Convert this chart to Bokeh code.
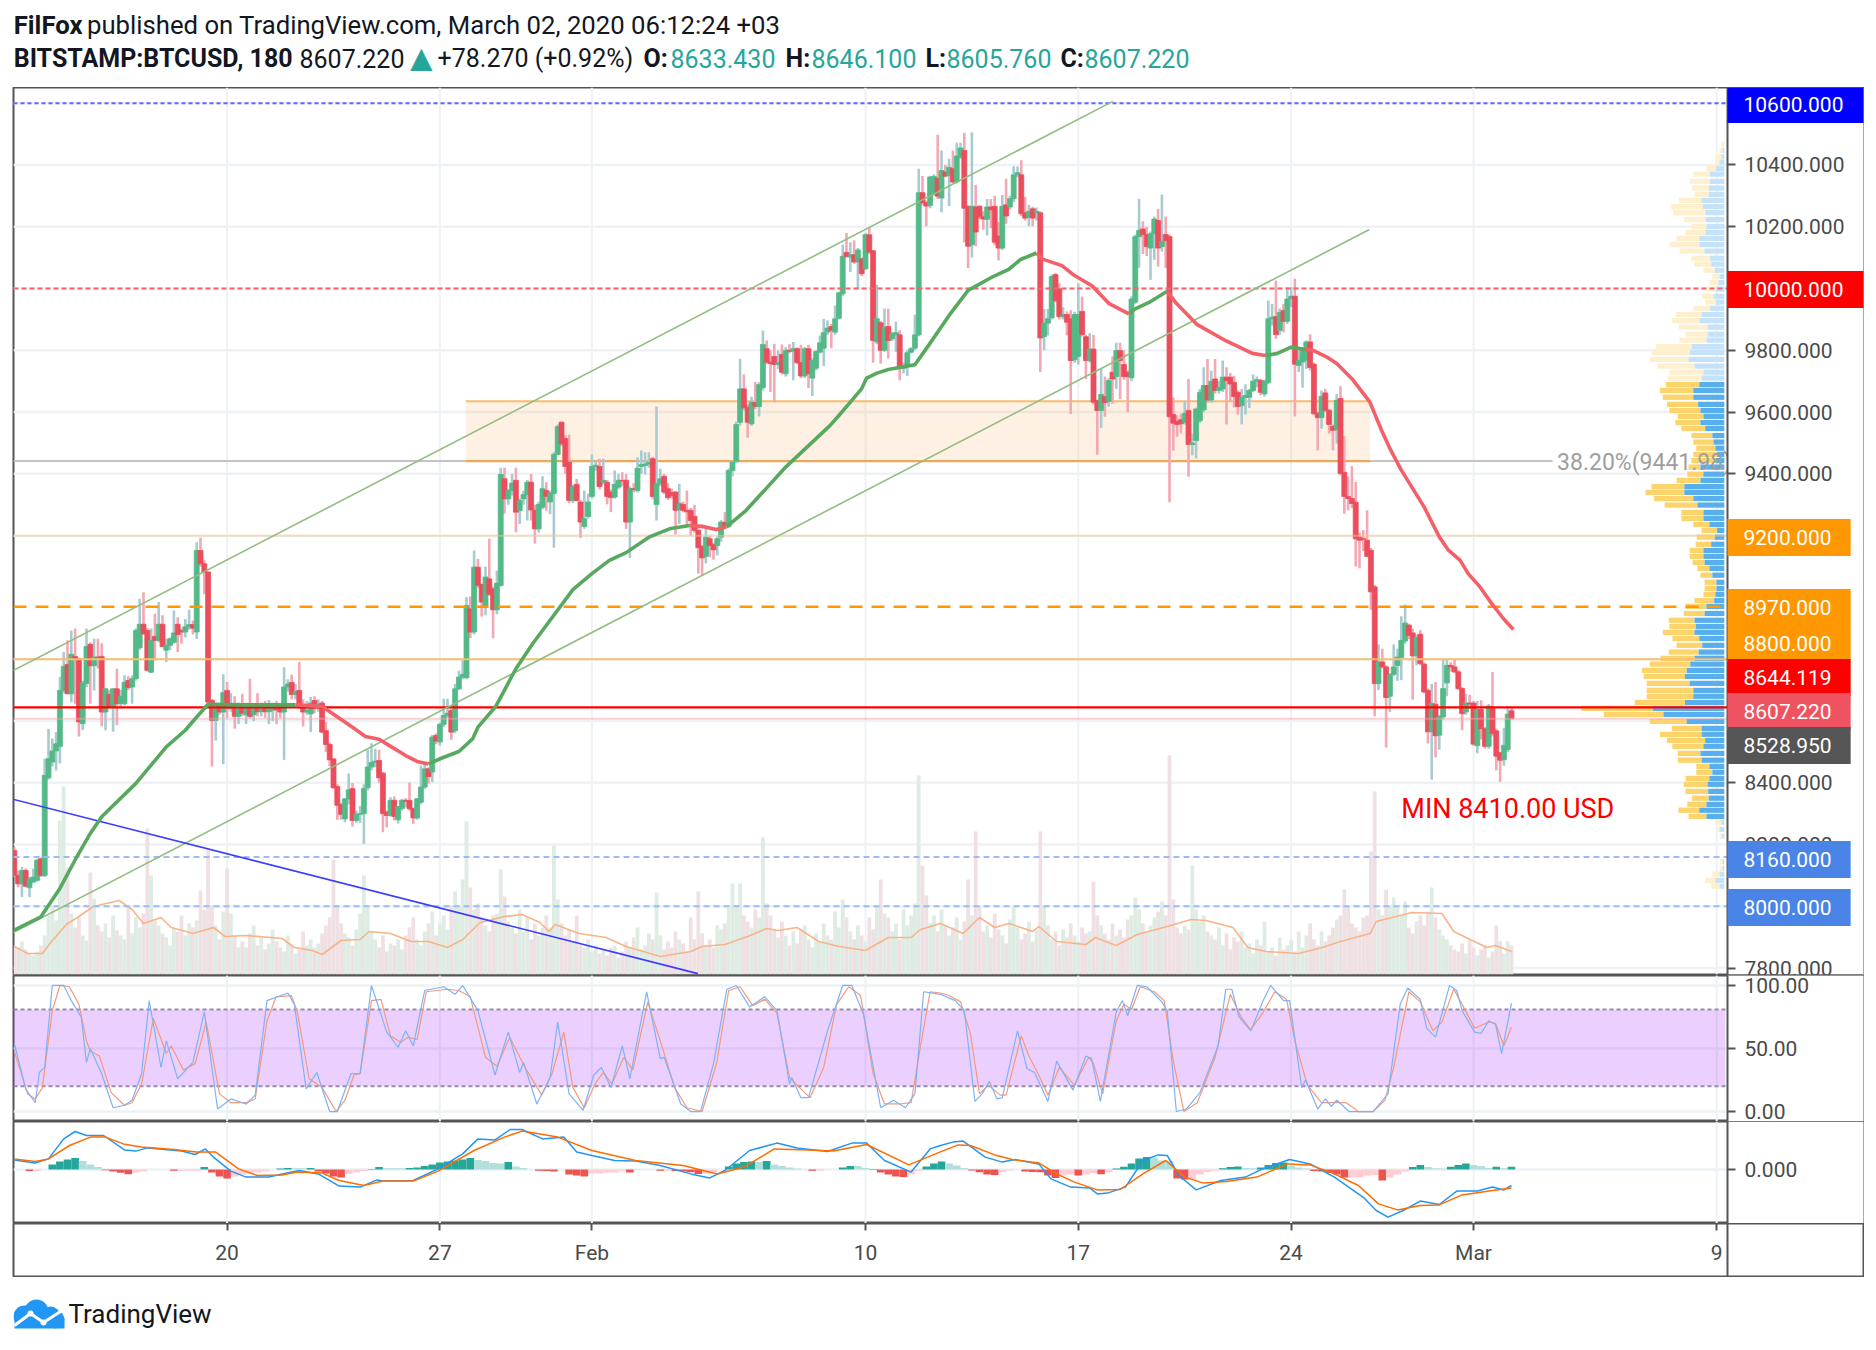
from bokeh.core.properties import value
from bokeh.embed import file_html
from bokeh.resources import INLINE
from bokeh.layouts import column
from bokeh.models import (FixedTicker, Label, LinearAxis, LinearScale,
                          NumeralTickFormatter, Range1d, Span)
from bokeh.plotting import figure

# ---- candles (3h bars, bar 0 = 13 Jan 00:00) ----
opens = [
 8181,8100,8073,8116,8060,8079,8084,8154,8100,8416,8467,8503,8518,8699,8783,8688,8809,8802,8591,8721,
 8848,8779,8807,8809,8629,8686,8647,8704,8656,8656,8731,8710,8737,8837,8913,8893,8758,8874,8861,8913,
 8829,8845,8855,8913,8893,8888,8905,8912,8888,9152,9109,9082,8667,8602,8649,8629,8699,8640,8651,8615,
 8650,8620,8650,8620,8650,8630,8648,8630,
 8635,8640,8643,8629,8710,8725,8686,8699,8653,8629,8623,8666,8643,8658,8569,8524,8477,8388,8329,8283,
 8348,8381,8278,8298,8300,8384,8451,8466,8472,8431,8305,8294,8343,8280,8316,8343,8343,8316,8286,8337,
 8386,8445,8435,8553,8532,8589,8618,8634,8569,8704,8742,8740,8963,8888,9098,9042,8971,9060,9028,8960,
 9039,9384,9319,9346,9379,9281,9319,9333,9373,
 9282,9222,9292,9346,9309,9336,9463,9567,9514,9438,9314,9366,9309,9230,9262,9327,9424,9424,9373,9373,
 9341,9325,9357,9379,9379,9244,9352,9346,9424,9427,9432,9449,9301,9368,9392,9352,9340,9341,9284,9301,
 9282,9282,9262,9217,9165,9133,9190,9171,9168,9195,9243,9230,9411,9441,9567,9675,9616,9562,9631,9618,
 9679,9805,9762,9780,9754,9787,9724,9800,
 9797,9805,9760,9717,9805,9710,9742,9794,9807,9859,9877,9859,9904,9983,10117,10102,10109,10086,10096,10064,
 10174,10122,9827,9889,9800,9877,9837,9850,9850,9742,9749,9794,9807,9850,10310,10278,10269,10307,10357,10293,
 10377,10366,10388,10345,10425,10447,10266,10142,10264,10266,10232,10224,10264,10266,10170,10131,10271,10264,10291,10368,
 10368,10245,10231,10258,10245,10245,
 9844,9888,9905,10045,9999,9909,9916,9902,9769,9780,9926,9844,9767,9804,9637,9605,9650,9635,9729,9715,
 9799,9754,9729,9711,9956,10168,10193,10175,10131,10177,10220,10136,10175,10168,9592,9570,9575,9567,9605,9495,
 9508,9572,9607,9686,9639,9707,9670,9675,9713,9713,9696,9664,9621,9647,9648,9670,9700,9702,9659,9696,
 9902,9909,9864,9929,9894,
 9967,9975,9751,9762,9768,9827,9755,9597,9582,9662,9606,9554,9543,9644,9405,9327,9320,9308,9195,9190,
 9185,9153,9034,8721,8791,8775,8680,8751,8780,8805,8859,8910,8885,8811,8881,8784,8699,8565,8654,8554,
 8613,8723,8780,8775,8759,8705,8629,8658,8658,8520,8637,8575,8518,8640,8568,8497,8475,8507,8633]
closes = [
 8100,8073,8116,8065,8089,8095,8149,8100,8424,8478,8503,8526,8699,8777,8688,8816,8802,8597,8723,8841,
 8779,8807,8805,8629,8704,8647,8704,8656,8680,8725,8708,8737,8893,8913,8882,8764,8861,8861,8913,8841,
 8845,8866,8885,8880,8888,8905,8912,8900,9152,9109,9082,8661,8602,8656,8629,8692,8642,8651,8615,8650,
 8625,8650,8615,8648,8630,8650,8630,8645,
 8643,8636,8629,8710,8720,8686,8695,8650,8629,8635,8658,8643,8655,8564,8524,8474,8384,8327,8298,8348,
 8377,8278,8298,8300,8381,8451,8466,8470,8416,8300,8294,8343,8291,8323,8343,8340,8316,8286,8348,8386,
 8445,8420,8548,8535,8589,8618,8625,8564,8704,8742,8751,8974,8888,9098,9039,8985,9066,9010,8960,9046,
 9398,9319,9346,9370,9276,9314,9333,9373,9283,
 9222,9301,9352,9327,9338,9463,9553,9497,9424,9314,9359,9314,9244,9255,9309,9424,9428,9359,9379,9327,
 9323,9366,9379,9377,9244,9352,9350,9418,9430,9432,9437,9327,9368,9384,9341,9323,9330,9282,9305,9282,
 9277,9249,9217,9161,9128,9195,9168,9154,9190,9244,9230,9411,9438,9560,9675,9614,9567,9632,9618,9689,
 9819,9762,9757,9754,9760,9729,9800,9797,
 9805,9760,9717,9805,9724,9767,9796,9824,9857,9872,9865,9902,9986,10104,10104,10109,10086,10125,10048,10174,
 10118,9832,9902,9800,9875,9832,9854,9857,9742,9745,9792,9805,9850,10310,10278,10267,10361,10363,10299,10382,
 10364,10393,10345,10429,10455,10260,10137,10266,10183,10232,10225,10264,10255,10150,10131,10266,10235,10291,10368,10375,
 10242,10228,10250,10228,10250,9840,
 9888,9902,10039,9961,9909,9915,9891,9767,9916,9916,9851,9767,9804,9632,9605,9657,9631,9702,9707,9799,
 9767,9715,9715,9966,10168,10188,10175,10136,10177,10225,10131,10153,10155,9585,9564,9560,9562,9596,9495,9500,
 9610,9664,9686,9639,9700,9670,9680,9713,9702,9691,9650,9618,9648,9654,9670,9700,9705,9664,9700,9902,
 9907,9851,9923,9894,9966,
 9975,9755,9768,9800,9827,9744,9595,9582,9651,9606,9560,9541,9638,9401,9327,9320,9304,9190,9185,9188,
 9133,9018,8721,8791,8775,8676,8751,8775,8807,8861,8917,8877,8811,8870,8786,8694,8565,8657,8552,8615,
 8705,8780,8775,8759,8705,8624,8658,8655,8525,8637,8575,8518,8648,8559,8486,8473,8521,8622,8607]
highs = [
 8192,8115,8127,8122,8095,8122,8154,8158,8478,8575,8543,8564,8742,8823,8861,8893,8899,8805,8730,8899,
 8855,8866,8866,8852,8706,8700,8706,8769,8700,8748,8745,8748,8900,8996,9017,8900,8899,8947,8985,8942,
 8866,8870,8958,8936,8900,8930,8960,8925,9179,9193,9120,9085,8670,8660,8655,8751,8726,8690,8680,8660,
 8688,8660,8737,8655,8690,8660,8665,8668,
 8660,8665,8650,8774,8735,8750,8720,8791,8670,8665,8678,8680,8670,8665,8596,8530,8480,8395,8335,8350,
 8430,8399,8310,8325,8395,8507,8528,8510,8507,8435,8310,8353,8356,8325,8348,8350,8401,8320,8350,8456,
 8461,8450,8555,8560,8595,8672,8672,8640,8720,8763,8796,9001,9003,9152,9125,9045,9100,9190,9035,9087,
 9420,9420,9352,9400,9420,9320,9345,9380,9400,
 9300,9310,9392,9373,9345,9470,9560,9570,9525,9527,9365,9384,9315,9346,9336,9463,9440,9449,9449,9380,
 9350,9411,9400,9405,9400,9360,9370,9454,9476,9470,9470,9455,9618,9417,9400,9370,9352,9345,9368,9310,
 9346,9290,9300,9225,9170,9228,9200,9178,9198,9250,9276,9418,9445,9570,9773,9722,9625,9650,9697,9697,
 9864,9832,9800,9821,9800,9819,9810,9820,
 9827,9810,9818,9810,9818,9775,9800,9848,9902,9897,9885,9945,9990,10142,10180,10150,10156,10131,10100,10180,
 10199,10125,10012,9895,9935,9935,9860,9893,9865,9760,9800,9810,9915,10388,10364,10285,10365,10370,10498,10447,
 10400,10420,10447,10472,10472,10504,10270,10506,10336,10270,10250,10290,10290,10300,10215,10303,10355,10300,10396,10395,
 10415,10296,10271,10265,10262,10250,
 9934,9934,10045,10050,10017,9940,9926,9930,9925,10017,9974,9850,9855,9850,9640,9740,9715,9710,9780,9825,
 9825,9800,9735,9975,10175,10290,10218,10200,10185,10233,10258,10304,10233,10175,9648,9590,9595,9637,9707,9530,
 9615,9675,9745,9772,9734,9772,9700,9767,9745,9726,9718,9670,9675,9690,9675,9722,9715,9708,9705,9961,
 9950,10026,9935,9950,10004,
 10005,10032,9800,9805,9832,9852,9760,9600,9670,9675,9610,9560,9658,9684,9522,9392,9425,9374,9210,9218,
 9282,9160,9040,8848,8834,8780,8755,8848,8834,8939,8977,8915,8899,8880,8894,8790,8705,8720,8726,8620,
 8802,8802,8790,8802,8765,8710,8688,8685,8665,8665,8667,8580,8655,8759,8575,8500,8577,8648,8646]
lows = [
 8095,8062,8030,8062,8030,8075,8080,8095,8095,8410,8453,8440,8462,8690,8688,8661,8656,8550,8570,8710,
 8656,8699,8770,8583,8570,8640,8565,8586,8640,8650,8700,8656,8730,8830,8880,8760,8755,8796,8855,8839,
 8791,8830,8850,8823,8850,8870,8895,8880,8865,9100,9010,8661,8453,8537,8620,8460,8610,8630,8575,8590,
 8615,8590,8610,8600,8615,8615,8610,8590,
 8600,8590,8610,8474,8695,8670,8670,8640,8582,8620,8564,8625,8630,8560,8500,8453,8380,8280,8280,8272,
 8330,8258,8270,8270,8202,8375,8440,8450,8400,8240,8256,8290,8278,8268,8310,8320,8310,8267,8280,8330,
 8380,8397,8402,8525,8520,8580,8610,8539,8560,8700,8735,8735,8868,8880,9030,8938,8942,9005,8868,8945,
 9035,9271,9300,9330,9211,9238,9300,9249,9249,
 9174,9210,9285,9281,9270,9161,9460,9490,9400,9305,9305,9310,9193,9222,9255,9320,9410,9350,9365,9301,
 9276,9320,9350,9360,9222,9128,9340,9340,9400,9398,9420,9320,9249,9360,9335,9315,9320,9204,9238,9275,
 9228,9200,9210,9077,9071,9110,9130,9122,9136,9180,9225,9225,9392,9435,9556,9605,9517,9555,9610,9586,
 9670,9755,9665,9632,9740,9722,9715,9790,
 9703,9755,9710,9710,9678,9652,9735,9790,9749,9850,9807,9850,9900,9975,10100,10053,10080,9997,10040,10060,
 10112,9760,9820,9757,9795,9773,9830,9795,9703,9725,9717,9790,9800,9845,10270,10202,10260,10300,10290,10247,
 10360,10267,10340,10340,10420,10150,10066,10100,10137,10225,10190,10172,10195,10140,10091,10125,10210,10255,10280,10360,
 10235,10220,10202,10202,10220,9730,
 9800,9848,9900,9955,9900,9900,9848,9594,9760,9754,9845,9707,9760,9625,9462,9549,9585,9617,9627,9675,
 9642,9705,9600,9700,9950,10067,10112,10105,10028,10093,10071,10120,10067,9308,9475,9520,9531,9560,9391,9460,
 9450,9565,9600,9630,9630,9660,9660,9665,9560,9632,9615,9592,9560,9592,9613,9665,9680,9655,9650,9690,
 9880,9837,9850,9858,9885,
 9940,9586,9730,9679,9740,9735,9590,9476,9546,9600,9530,9476,9498,9395,9271,9282,9290,9100,9094,9150,
 9130,8960,8615,8700,8770,8514,8629,8745,8730,8732,8850,8865,8669,8780,8780,8690,8527,8410,8482,8507,
 8605,8680,8760,8755,8700,8570,8620,8640,8520,8495,8540,8510,8510,8550,8440,8403,8455,8500,8606]
volumes = [
 30,28,34,26,22,20,24,30,40,60,70,55,155,189,108,62,48,58,40,35,
 103,77,50,44,52,38,60,45,40,36,70,42,58,48,62,147,100,55,50,42,
 38,30,48,44,60,40,52,48,55,85,66,125,70,50,36,64,107,62,40,28,
 34,28,42,50,30,38,26,32,46,34,28,24,40,30,22,26,44,30,36,28,
 32,42,50,58,116,70,52,42,38,30,46,62,100,68,44,36,28,40,24,32,
 30,36,26,40,48,58,36,30,44,52,64,40,52,60,46,70,84,70,96,154,
 88,66,72,58,50,44,60,62,106,79,54,48,42,66,44,58,36,52,40,48,
 60,48,130,76,52,40,46,34,60,30,28,36,24,30,22,26,20,28,30,18,
 24,34,28,38,48,26,30,42,36,83,40,26,34,28,44,36,32,24,58,36,
 84,42,30,36,28,50,46,52,68,92,70,92,60,54,48,66,58,138,72,60,
 46,38,54,40,30,44,32,46,50,36,28,42,34,52,40,36,64,48,76,58,
 44,36,50,40,34,58,46,70,96,62,58,44,52,36,66,50,60,72,200,110,
 80,52,60,44,66,50,40,48,58,36,54,96,60,144,70,44,50,38,62,46,
 40,32,56,68,48,36,42,54,34,46,144,70,50,36,44,30,46,38,52,40,
 34,48,42,44,94,60,50,42,36,52,40,46,38,56,60,78,66,52,44,50,
 58,64,74,60,220,76,48,42,50,46,110,66,54,60,44,40,36,48,30,42,
 26,38,34,44,28,32,22,36,30,54,24,28,20,38,26,30,36,24,44,28,
 40,52,36,30,44,34,40,48,56,60,86,70,52,48,44,58,60,124,184,66,
 60,86,70,78,68,60,74,48,42,54,60,50,64,88,58,46,40,36,30,26,
 24,32,22,36,28,20,26,30,18,24,50,34,22,34,30]
vma_bar = [0,3.5,7.4,9.8,13.7,17,20.8,27.6,31,34,38.6,41.3,47,52.4,55.5,61,70.5,73.7,78.4,81,86,91,93.4,99,104.4,109,114,118,122.6,129,133.6,138.3,140.7,142.3,148.6,155.7,161,170,178,181,187,193,198,201,206,211.7,217,224,230,236,238.5,243.7,249.7,254,258,261.8,268,269.6,274.3,282,284.5,290,295.5,303.4,309.7,313.6,320.7,324.6,329.3,338,344.2,349,356.8,358.4,367.8,375.7,378.8,387.5,389.8,394]
vma_val = [29,22,22,34,51,59,69,75,66,52,58,48,42,48,39,40,37,28,25,21,35,36,44,42,34,34,28,36,53,59,61,53,44,51,42,38,29,19,24,29,31,39,47,45,48,34,29,25,38,38,46,52,42,58,48,52,44,49,34,31,38,30,41,49,56,55,48,28,24,22,28,34,42,54,63,62,44,28,30,24]

# ---- two-colour moving average ----
ma_bar = [0,7,12,16,20,23,32,36,40,45,48,51,60,74,81,84.5,89,92.4,96,98.6,
 103,106,109,112.7,117,120.6,122,126.7,132,136.4,147,152,156.6,161,167,172.4,177.7,181,184.7,187.4,
 192.6,197,203,214.7,217,220.4,223,224.3,227,230,237,240.6,246,251,257,261.7,264.8,269,270.4,275.7,
 279,283.6,288,293.3,295,298.6,303.4,305.6,311.3,318.8,325.8,329.2,332.4,336,339.6,341.8,345.7,348,352,356.7,
 359.8,362,365,371,375,377.4,380.5,382.6,385.7,388.8,391.9,394.5]
ma_val = [7923,7966,8058,8150,8236,8290,8398,8457,8516,8570,8613,8654,8652,8652,8647,8618,8580,8550,8541,8521,
 8488,8469,8461,8481,8501,8542,8580,8647,8769,8850,9025,9077,9120,9145,9195,9222,9233,9230,9220,9228,
 9282,9341,9422,9557,9589,9638,9676,9710,9726,9738,9753,9816,9913,9994,10035,10062,10094,10115,10096,10074,
 10042,10009,9952,9918,9934,9955,9991,9955,9883,9831,9790,9783,9790,9810,9803,9800,9776,9757,9708,9633,
 9541,9482,9412,9293,9196,9153,9120,9077,9034,8980,8931,8896]
ma_green_spans = [(0,74),(109,177.7),(187.4,269),(293.3,303.4),(329.2,339.6)]
ma_red_spans = [(74,109),(177.7,187.4),(269,293.3),(303.4,329.2),(339.6,394.5)]

# ---- volume profile ----
vp_price = [10468,10447,10427,10409,10389,10370,10347,10325,10305,10285,10265,10246,10223,10201,10182,10162,10142,10121,10098,10079,10059,10039,10019,9998,9975,9956,9936,9916,9896,9875,9852,9833,9812,9793,9771,9749,9729,9710,
 9689,9670,9648,9625,9605,9586,9566,9547,9524,9503,9483,9463,9443,9422,9399,9379,9359,9340,9320,
 9299,9275,9256,9236,9217,9195,9172,9152,9133,9113,9094,9072,9049,9029,9010,8990,8971,8948,8926,8906,8887,8867,8845,8823,8803,8784,8764,8744,8722,8699,8680,8660,8641,8621,8599,8576,8557,8537,8518,8495,8473,8453,8434,8414,8395,8372,8350,8330,8311,8291,
 8272,8249,8227,8144,8123,8104,8084,8065]
vp_up = [0,3,5,8,14,24,24,26,26,38,36,32,31,30,32,42,42,33,24,22,16,8,10,14,17,14,24,38,42,28,28,30,55,58,60,50,35,38,
 42,52,52,44,40,35,40,32,20,18,15,12,15,40,35,40,67,67,52,
 45,35,35,25,12,16,22,35,35,33,25,20,13,13,15,17,30,33,50,48,50,42,37,43,50,57,63,66,58,52,52,66,120,102,63,38,38,32,35,40,38,25,20,25,28,27,26,30,42,30,
 5,8,4,3,3,8,15,8]
vp_total = [5,8,15,15,30,52,58,54,50,76,90,86,68,55,65,80,92,75,55,50,35,20,25,32,37,32,52,82,88,76,65,75,115,122,124,112,92,95,
 98,108,103,96,92,78,82,72,55,52,47,52,55,60,62,80,122,132,118,
 100,72,72,52,38,46,48,58,58,53,45,40,33,33,35,50,65,68,93,92,103,87,80,93,107,125,138,135,130,130,130,150,240,202,125,88,108,96,87,78,78,47,47,65,68,65,54,62,77,60,
 15,12,8,8,7,20,32,22]

# ---- stochastic ----
k_bar = [0,3,5.5,6.6,8,10,13,15,17.6,19,20,23,26,29,31,33.5,35.5,38.6,40,43,47,50,53.5,57,61,63.4,66.5,72,73.7,76.8,79.6,83,85,88.6,91,94,98,101,103,105,108,113,116,118,122,126.5,130,133,134,137.5,141,143,146,149.7,152.5,154.5,157,160,162,166.4,170,171,175.4,178,180.6,184,187.5,190,193.5,197.5,200.7,204,204.6,207,209,214,218,220.4,223.5,228,231.4,234.5,237,239.3,243.7,
 247.6,250,252.8,254.7,256.6,258.6,260,264,266.5,268.5,272,274.3,278.6,282,283.5,285.8,290,291.6,293,295.5,298,302,303.4,305.8,308.4,312,316.8,318.8,320.4,322.3,325.4,328.5,330.6,334,335.6,338.8,339.8,343,345,346.6,348,351.3,357.6,361.5,364.7,366.7,370,371.7,374,377.7,379.6,381,384.3,386,388,389.8,391.4,394]
k_val = [54,18,7,31,35,100,100,88,75,39,50,30,3,5,9,30,88,35,56,26,39,79,2,10,6,13,88,94,85,18,31,0,0,30,30,100,63,51,64,52,96,99,93,100,80,29,63,31,39,6,27,71,14,1,29,35,19,52,26,95,42,43,6,0,0,38,97,100,83,91,80,22,27,11,11,64,100,100,77,3,9,3,14,95,93,
 88,80,8,14,24,10,11,64,34,31,8,40,17,44,42,8,79,88,76,100,99,87,80,0,2,15,52,97,97,75,64,87,100,88,88,19,25,2,10,4,9,0,0,14,85,98,89,66,59,100,96,80,63,62,72,69,46,86]
d_bar = [0,3.5,5.5,7.4,10,12,14.5,17,19,20,22.4,25.5,29,31,33.5,36.6,40,41.3,44.5,47.6,50.5,54,57,61,63.4,66.5,68.9,72.9,74.4,77.6,81,84.7,87,89.4,91,94,96.5,99,101.7,103.6,106,108.4,113.9,117,120,124,127,130.4,134.4,138.8,141.5,144.6,147,150,153,155,157.3,160.4,162.8,166.7,170,173.8,177,181,184.8,188,191,194.3,197.5,200.7,204,207,209.4,213,216.4,219.6,222.7,226,229,233,236,238.6,241,243.7,
 246,249,251.6,254,256.3,259.4,261,265,267,269.6,272,275,279,282.7,284,286.4,290,292,294,296.3,300,302.6,305,307.8,311.3,316,320,323,325.4,328.5,331.7,334.8,337,340.3,344,350.5,353.7,357.6,360.7,363,367,370,373.3,375.7,378.8,381,384.3,388,389.8,392,394]
d_val = [48,14,10,19,80,100,99,85,56,48,44,15,5,7,22,74,46,52,33,38,71,14,7,7,10,72,91,92,80,26,19,0,9,29,30,88,89,60,55,59,57,95,97,96,91,43,36,59,35,13,30,63,19,3,23,31,22,43,33,87,56,19,3,0,38,96,99,84,89,78,27,18,11,35,85,99,92,30,6,6,7,54,95,94,
 92,87,62,14,21,13,13,60,44,29,13,35,21,43,38,14,72,85,81,99,95,88,40,0,7,43,93,74,65,78,95,89,56,21,7,7,0,0,9,35,95,87,64,71,97,85,66,71,70,52,67]

# ---- MACD ----
macd_bar = [0,5.5,9,13,16,19,23.5,29,32,35,44,47.6,50.3,52.4,57,61,67,70.5,75,80,85.5,91,95.4,97,105,111.5,118,122,126.5,130.5,133.6,139,144.6,148,152,158,163.5,170,178,183,187,193.5,200.7,206,214,220.4,224.3,229,236,241,243.7,
 247,249.7,255.5,260,263.3,269.6,272.8,278,283,285,287.7,292.4,297,301,303.4,306.5,311,317.5,324,328.5,335.6,341,347.4,355.2,358.4,361.5,365.5,370,375,379.6,385,389,392,394]
macd_val = [48,32,53,153,190,170,170,98,92,108,92,75,103,62,-8,-38,-38,-22,-5,-22,-83,-88,-52,-58,-55,3,78,153,148,200,200,153,162,87,70,45,42,20,-22,-42,-5,95,132,108,90,132,132,45,-13,103,120,
 137,142,62,37,50,28,-47,-88,-92,-122,-118,-88,45,73,70,-30,-102,-55,-38,3,50,28,-38,-142,-205,-238,-205,-158,-175,-108,-108,-88,-102,-80]
signal_bar = [0,5.5,9,14.5,20,24,28.7,33.4,42,48,53,59,64,70.5,74.5,81,85.5,92,97,105,111.5,121,129,133.6,143,152,163.5,176,185,192,200,209,215.6,224.3,235.4,243.7,
 248.4,251.6,258,262.6,269.6,274.3,279,285,291,297,303,308,313,319,327,335,341,347.4,353.7,359,364,370,375,381,389,394]
signal_val = [53,40,53,120,162,162,128,112,100,87,87,3,-30,-27,-13,-18,-55,-80,-58,-58,-8,95,162,192,162,95,45,20,-22,12,103,98,92,125,23,88,
 123,120,73,50,33,-22,-63,-102,-100,-22,45,-38,-68,-60,-38,28,23,-22,-80,-172,-202,-180,-177,-127,-105,-92]
hist_vals = [0,0,-8,-8,0,25,40,50,58,42,25,12,-4,-10,-16,-24,-15,-10,0,0,0,-6,-6,-6,-6,12,-15,-35,-45,-35,-25,-20,-15,-10,0,5,7,6,6,8,
 -10,-20,-35,-40,-22,-15,-8,2,12,6,6,6,8,10,18,25,35,40,45,50,58,48,42,32,30,38,15,8,0,-6,-8,-10,0,-25,-30,-35,-20,-20,-15,-15,-8,-15,-3,0,0,-6,-6,-8,-10,-14,-22,-20,-12,0,15,30,38,40,38,42,25,18,10,5,0,-6,-6,0,0,10,18,18,8,-2,-15,-25,-35,-38,-25,-8,15,30,40,30,20,8,-5,-14,-25,-28,-14,-5,0,-10,-12,-14,-30,-42,-30,-25,-30,-25,-18,-24,-12,5,14,30,55,62,60,45,42,-45,-50,-50,-25,-12,-6,6,12,15,8,6,10,22,32,35,18,10,5,-8,-10,-18,-25,-40,-40,-40,-30,-28,-55,-40,-25,-10,12,22,12,6,5,14,22,30,22,18,8,14,6,14]

# ---- axes and annotations ----
price_ticks = [7800,8000,8200,8400,8600,8800,9200,9400,9600,9800,10000,10200,10400,10600]
date_ticks = [56,112,152,224,280,336,384,448]
date_labels = ["20","27","Feb","10","17","24","Mar","9"]
level_prices = [10600,10000,9200,8970,8800,8644.119,8607.22,8160,8000]
box_text = ["10600.000","10000.000","9200.000","8970.000","8800.000","8644.119","8607.220","8528.950","8160.000","8000.000"]
box_color = ["#0000ff","#ff0000","#ff9800","#ff9800","#ff9800","#ff0000","#ef5361","#555555","#4a84e6","#4a84e6"]
box_center = [104,289,537,607,643,677,711,745,859,907]
box_wide = [True,True,False,False,False,False,False,False,False,False]
fib_level = 9441.98
zone_low, zone_high = 9441, 9635

X0, X1 = -0.21, 486.63
AX = 450.84
GREEN, RED = "#53b987", "#eb4d5c"
TXT = "#4a4a4a"
FONT = "Roboto"
N = len(closes)

x_range = Range1d(X0, X1)


def pane(height, y0, y1, top=0):
    f = figure(width=1864, height=height, x_range=x_range, y_range=Range1d(y0, y1),
               output_backend="svg", toolbar_location=None, min_border_left=13, min_border_right=1,
               min_border_top=top, min_border_bottom=0, x_axis_location=None, y_axis_location=None,
               background_fill_color="white", outline_line_color="#555555", outline_line_width=2)
    f.grid.visible = False
    return f


def vgrid(f, y0, y1):
    f.segment(x0=date_ticks, x1=date_ticks, y0=[y0]*len(date_ticks), y1=[y1]*len(date_ticks),
              line_color="#eef2f6", line_width=2, level="underlay")


def hgrid(f, vals):
    f.segment(x0=[X0]*len(vals), x1=[AX]*len(vals), y0=vals, y1=vals,
              line_color="#eef2f6", line_width=2.5, level="underlay")


def right_axis(f, ticks, fmt):
    a = LinearAxis(ticker=FixedTicker(ticks=ticks), formatter=NumeralTickFormatter(format=fmt),
                   fixed_location=AX, major_tick_out=8, major_tick_in=0, minor_tick_out=0, minor_tick_in=0,
                   major_tick_line_color="#555555", major_tick_line_width=2,
                   axis_line_color="#555555", axis_line_width=2, major_label_standoff=9,
                   major_label_text_font=FONT, major_label_text_font_size="21px",
                   major_label_text_color=TXT)
    f.add_layout(a, "right")


def mask(f, y0, y1):
    f.quad(left=[AX], right=[X1 + 1], bottom=[y0], top=[y1], color="white", line_color=None)


# ================= header strip =================
head = figure(width=1864, height=87, x_range=Range1d(13, 1863), y_range=Range1d(87, 0),
              output_backend="svg", toolbar_location=None, min_border_left=13, min_border_right=1,
              min_border_top=0, min_border_bottom=0,
              x_axis_location=None, y_axis_location=None, outline_line_color=None)
head.grid.visible = False
H1 = "#131722"
TEAL = "#26a69a"


def htext(text, x, y, color=H1, bold=False, size="25px"):
    head.text(x=[x], y=[y], text=[text], text_font=value(FONT), text_font_size=size, text_color=color,
              text_font_style="bold" if bold else "normal", text_baseline="middle", text_align="left")


htext("FilFox", 13.2, 24, bold=True, size="25.7px")
htext("published on TradingView.com, March 02, 2020 06:12:24 +03", 86.5, 24, size="25.7px")
htext("BITSTAMP:BTCUSD, 180", 13.2, 58, bold=True)
htext("8607.220", 299, 58)
htext("\u25b2", 402, 57, TEAL, size="38px")
htext("+78.270 (+0.92%)", 437, 58)
htext("O:", 643, 58, bold=True)
htext("8633.430", 670, 58, TEAL)
htext("H:", 785, 58, bold=True)
htext("8646.100", 811, 58, TEAL)
htext("L:", 925, 58, bold=True)
htext("8605.760", 946, 58, TEAL)
htext("C:", 1060, 58, bold=True)
htext("8607.220", 1084, 58, TEAL)

# ================= main pane =================
H_MAIN = 888
main = pane(H_MAIN, 7776, 10650.8)
vgrid(main, 7776, 10650.8)
hgrid(main, price_ticks)
main.extra_y_ranges["vol"] = Range1d(0, 888)
main.extra_y_scales["vol"] = LinearScale()

bars = list(range(N))
vol_col = ["#dfece3" if closes[i] >= opens[i] else "#efe1e3" for i in range(N)]
main.vbar(x=bars, top=volumes, bottom=0, width=1.0, color=vol_col, line_color=None, y_range_name="vol")
main.line(vma_bar, vma_val, line_color="#f8b488", line_width=1.6, y_range_name="vol")

# volume profile
PX = 0.157
vp_strong = [8285 <= p <= 9695 for p in vp_price]
vp_h = 17
RIGHT = 450.0
vp_l_tot = [RIGHT - t*PX for t in vp_total]
vp_l_up = [RIGHT - u*PX for u in vp_up]
main.hbar(y=vp_price, height=vp_h, left=vp_l_tot, right=vp_l_up, line_color=None,
          fill_color=["#fdd36c" if s else "#fef0cf" for s in vp_strong])
main.hbar(y=vp_price, height=vp_h, left=vp_l_up, right=RIGHT, line_color=None,
          fill_color=["#59aeee" if s else "#c6e2f8" for s in vp_strong])

# zone + fib
main.segment(x0=[X0], x1=[404.8], y0=[fib_level], y1=[fib_level], line_color="#c4c4c4", line_width=2)
main.quad(left=[118.8], right=[356.8], bottom=[zone_low], top=[zone_high],
          fill_color="#f57c00", fill_alpha=0.11, line_color=None)
main.segment(x0=[118.8], x1=[356.8], y0=[zone_high], y1=[zone_high], line_color="#f7bd6e", line_width=2.2)
main.segment(x0=[118.8], x1=[356.8], y0=[zone_low], y1=[zone_low], line_color="#eaa95c", line_width=2.2)
main.text(x=[406], y=[9438], text=["38.20%(9441.98)"], text_font=value(FONT), text_font_size="23px",
          text_color="#9e9e9e", text_baseline="middle", text_align="left")

# candles
wick_col = ["#a9cbd0" if closes[i] >= opens[i] else "#f4a8b3" for i in range(N)]
body_col = [GREEN if closes[i] >= opens[i] else RED for i in range(N)]
main.segment(x0=bars, x1=bars, y0=lows, y1=highs, line_color=wick_col, line_width=2.6)
main.vbar(x=bars, bottom=opens, top=closes, width=1.3, fill_color=body_col, line_color=body_col, line_width=0.8)

# level lines
styles = [("#6464ff", 2, [4, 3]), ("#f6656f", 2, [5, 3]), ("#f7c68a", 2, [1, 1]), ("#ff9800", 2.5, [13, 9]),
          ("#f9bf6e", 2, []), ("#ff0000", 2.4, []), ("#f4a3ad", 2, [1, 1]), ("#9dbcf2", 2, [6, 4]), ("#9dbcf2", 2, [6, 4])]
for lv, (c, w, d) in zip(level_prices, styles):
    r = main.segment(x0=[X0], x1=[AX], y0=[lv], y1=[lv], line_color=c, line_width=w)
    r.glyph.line_dash = d

# channel + blue trend line
main.line([-0.5, 356.6], [7914, 10191], line_color="#93bd80", line_width=1.6)
main.line([-0.5, 289.1], [8762, 10606], line_color="#93bd80", line_width=1.6)
main.line([-0.5, 179.9], [8347, 7782], line_color="#3b3bff", line_width=1.6)

# moving average
for spans, col in ((ma_green_spans, "#59a85f"), (ma_red_spans, "#f4606a")):
    for a, b in spans:
        sx = [x for x in ma_bar if a <= x <= b]
        sy = [v for x, v in zip(ma_bar, ma_val) if a <= x <= b]
        main.line(sx, sy, line_color=col, line_width=3.6, line_join="round")

mask(main, 7776, 10650.8)
right_axis(main, price_ticks, "0.000")
main.add_layout(Span(location=7777, dimension="width", line_color="#555555", line_width=2))

main.text(x=[365], y=[8314], text=["MIN 8410.00 USD"], text_font=value(FONT), text_font_size="27px",
          text_color="#ff0000", text_baseline="middle", text_align="left")

# price boxes (centres given in page pixels; frame starts at page y=87, x=13)
for t, c, yc, w in zip(box_text, box_color, box_center, box_wide):
    main.add_layout(Label(x=1714, y=975 - yc, x_units="screen", y_units="screen", text=t, text_font=FONT,
                          text_font_size="21px", text_color="white", text_baseline="middle", text_align="left",
                          background_fill_color=c,
                          padding=dict(left=16, right=21 if w else 19, top=11, bottom=11)))

# ================= stochastic pane =================
stoch = pane(146, -7.9, 107.9)
vgrid(stoch, -8, 108)
hgrid(stoch, [0, 50, 100])
stoch.quad(left=[X0], right=[450.3], bottom=[20], top=[81], fill_color="#9915ff", fill_alpha=0.2, line_color=None)
r = stoch.segment(x0=[X0, X0], x1=[450.3, 450.3], y0=[20, 81], y1=[20, 81], line_color="#9a8aa8", line_width=2)
r.glyph.line_dash = [4, 3]
stoch.line(d_bar, d_val, line_color="#f4997a", line_width=1.2)
stoch.line(k_bar, k_val, line_color="#7fb2f5", line_width=1.2)
mask(stoch, -8, 108)
right_axis(stoch, [0, 50, 100], "0.00")

# ================= MACD pane =================
macd = pane(102, -270, 240)
vgrid(macd, -270, 240)
hgrid(macd, [0])
hist_bars = list(range(0, 396, 2))
hist_col = []
prev = 0
for h in hist_vals:
    if h >= 0:
        hist_col.append("#26a69a" if h > prev else "#b2dfdb")
    else:
        hist_col.append("#ef5350" if h < prev else "#ffcdd2")
    prev = h
macd.vbar(x=hist_bars, top=hist_vals, bottom=0, width=2.0, color=hist_col, line_color=None)
macd.line(macd_bar, macd_val, line_color="#2196f3", line_width=1.5)
macd.line(signal_bar, signal_val, line_color="#ff6d00", line_width=1.5)
mask(macd, -270, 240)
right_axis(macd, [0], "0.000")

# ================= time axis pane =================
tpane = pane(54, 0, 1)
ta = LinearAxis(ticker=FixedTicker(ticks=date_ticks),
                major_label_overrides=dict(zip(date_ticks, date_labels)),
                fixed_location=1, major_tick_out=7, major_tick_in=0, minor_tick_out=0, minor_tick_in=0,
                major_tick_line_color="#555555", major_tick_line_width=2, axis_line_color=None,
                major_label_standoff=10, major_label_text_font=FONT, major_label_text_font_size="21px",
                major_label_text_color=TXT)
tpane.add_layout(ta, "below")
tpane.add_layout(Span(location=AX, dimension="height", line_color="#555555", line_width=2))

# ================= footer =================
foot = figure(width=1864, height=73, x_range=Range1d(13, 1863), y_range=Range1d(1350, 1277),
              output_backend="svg", toolbar_location=None, min_border_left=13, min_border_right=1,
              min_border_top=0, min_border_bottom=0,
              x_axis_location=None, y_axis_location=None, outline_line_color=None)
foot.grid.visible = False
LOGO = "#2196f3"
foot.circle(x=[24, 36, 50, 55], y=[1316, 1311, 1316, 1319], radius=[11, 12, 10, 9], color=LOGO, line_color=None)
foot.quad(left=[14], right=[64], top=[1318], bottom=[1328], color=LOGO, line_color=None)
foot.line([14, 30, 43, 60], [1325, 1313, 1322, 1311], line_color="white", line_width=3)
foot.circle(x=[30, 43], y=[1313, 1322], radius=[3, 3], color="white", line_color=None)
foot.text(x=[68], y=[1313], text=["TradingView"], text_font=value(FONT), text_font_size="26px", text_color="#131722",
          text_baseline="middle", text_align="left")

layout = column(head, main, stoch, macd, tpane, foot, spacing=0)
open("out.html", "w").write(file_html(layout, INLINE))
